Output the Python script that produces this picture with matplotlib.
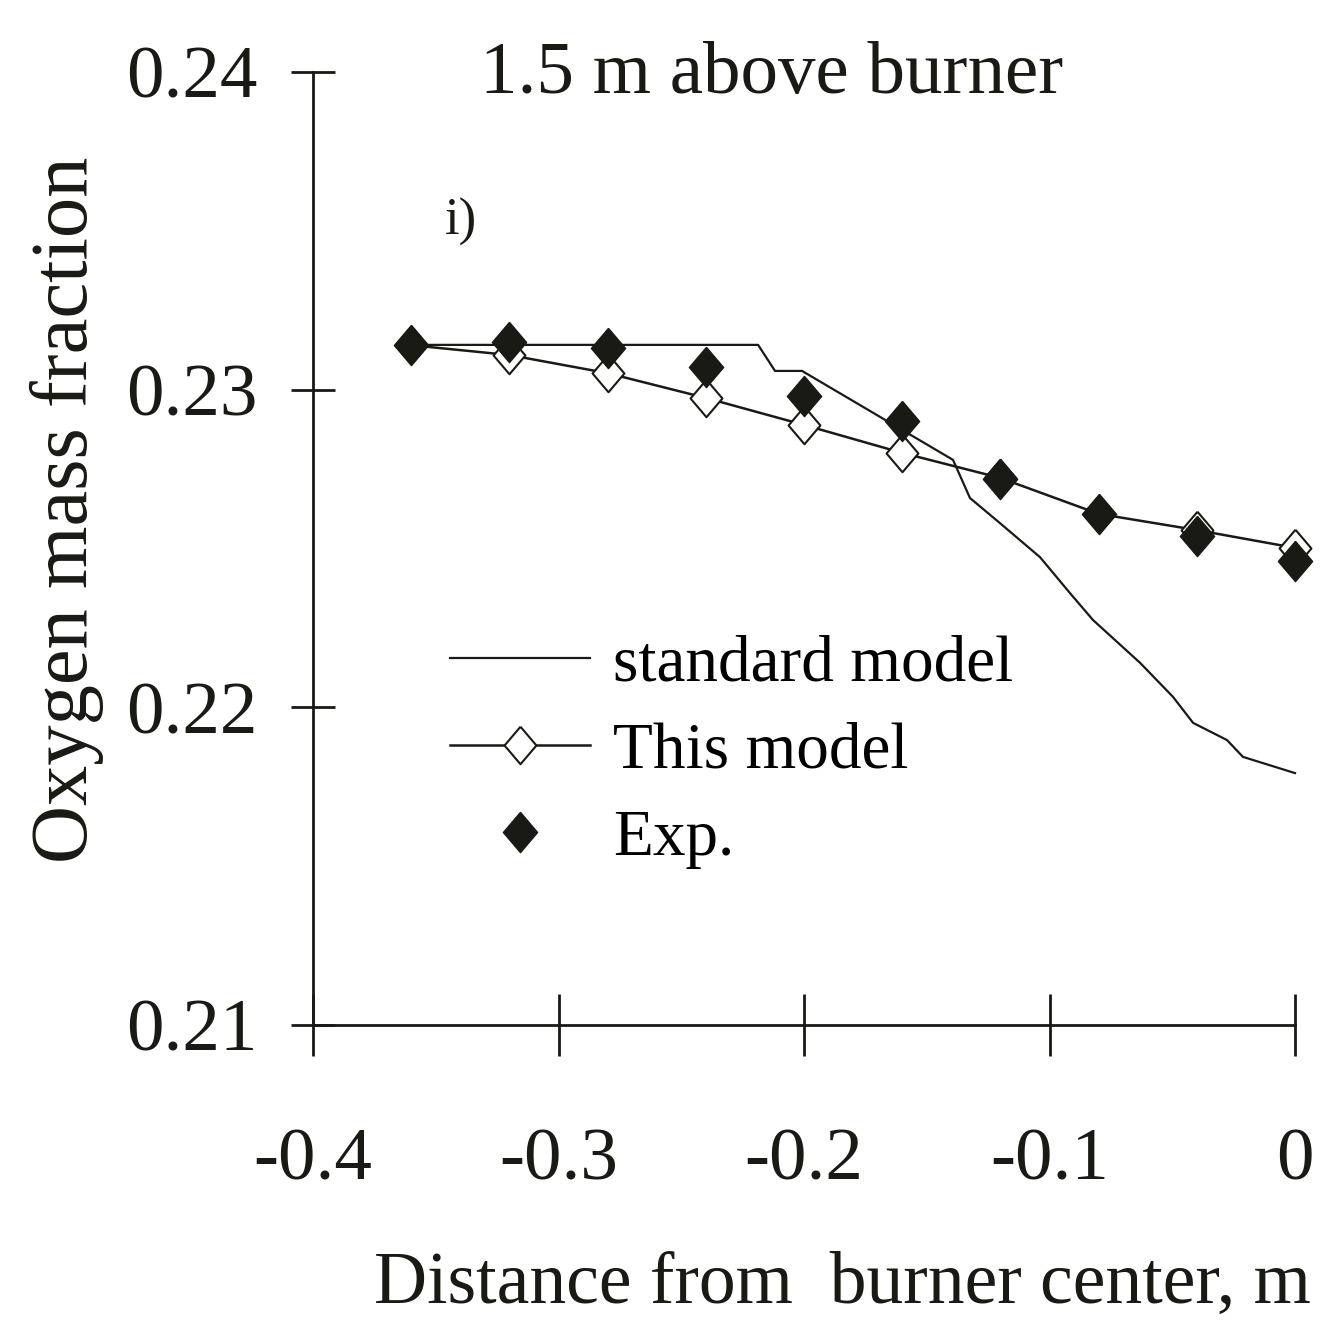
import matplotlib
matplotlib.use("Agg")
import matplotlib.pyplot as plt
from matplotlib.lines import Line2D

# values
std_x = [-0.36, -0.2187, -0.2118, -0.2008, -0.1393, -0.1324, -0.1202, -0.1039,
         -0.0917, -0.0823, -0.0631, -0.0497, -0.0415, -0.0277, -0.0212, 0.0]
std_y = [0.23141, 0.23141, 0.23059, 0.23059, 0.22779, 0.22659, 0.22580, 0.22473,
         0.22360, 0.22275, 0.22140, 0.22033, 0.21951, 0.21897, 0.21844, 0.21793]

model_x = [-0.36, -0.32, -0.28, -0.24, -0.20, -0.16, -0.12, -0.08, -0.04, 0.0]
model_y = [0.2314, 0.23109, 0.23052, 0.22974, 0.22889, 0.22801, 0.22722, 0.22609, 0.22558, 0.22502]

exp_x = [-0.36, -0.32, -0.28, -0.24, -0.20, -0.16, -0.12, -0.08, -0.04, 0.0]
exp_y = [0.2314, 0.2315, 0.2313, 0.2307, 0.2298, 0.2290, 0.2272, 0.2261, 0.2254, 0.2246]

x_ticks = [-0.4, -0.3, -0.2, -0.1, 0.0]
x_labels = ["-0.4", "-0.3", "-0.2", "-0.1", "0"]
y_ticks = [0.21, 0.22, 0.23, 0.24]
y_labels = ["0.21", "0.22", "0.23", "0.24"]

plt.rcParams["font.family"] = ["Liberation Serif", "DejaVu Serif"]
ink = "#1a1a14"

# tall-ish diamond
diamond = [(0, 1), (0.85, 0), (0, -1), (-0.85, 0), (0, 1)]

W, H = 1339, 1321
fig = plt.figure(figsize=(W / 100, H / 100), dpi=100)
ax = fig.add_axes([313 / W, 1 - 1025 / H, (1295 - 313) / W, (1025 - 72) / H])

ax.plot(std_x, std_y, color=ink, lw=1.6, zorder=3, clip_on=False)
ax.plot(model_x, model_y, color=ink, lw=1.8, marker=diamond, ms=27,
        mfc="white", mec=ink, mew=1.5, zorder=4, clip_on=False)
ax.plot(exp_x, exp_y, ls="none", marker=diamond, ms=29, mfc=ink, mec=ink,
        zorder=5, clip_on=False)

ax.set_xlim(-0.4, 0.0)
ax.set_ylim(0.21, 0.24)
ax.set_xticks(x_ticks)
ax.set_xticklabels(x_labels)
ax.set_yticks(y_ticks)
ax.set_yticklabels(y_labels)

for side in ["top", "right"]:
    ax.spines[side].set_visible(False)
for side in ["left", "bottom"]:
    ax.spines[side].set_linewidth(2.0)
    ax.spines[side].set_color(ink)
ax.patch.set_visible(False)

ax.tick_params(axis="x", direction="inout", length=45, width=2.0, pad=52,
               labelsize=54, colors=ink)
ax.tick_params(axis="y", direction="inout", length=32, width=2.0, pad=24,
               labelsize=54, colors=ink)

ax.text(0.134, 0.843, "i)", transform=ax.transAxes, fontsize=38,
        ha="left", va="center", color=ink)

fig.text(772 / W, 1 - 75 / H, "1.5 m above burner", fontsize=54,
         ha="center", va="center", color=ink)
fig.text(67 / W, 1 - 510 / H, "Oxygen mass fraction", fontsize=58,
         rotation=90, ha="center", va="center", color=ink)
fig.text(842 / W, 1 - 1303 / H, "Distance from  burner center, m", fontsize=53,
         ha="center", va="baseline", color=ink)

handles = [
    Line2D([], [], color=ink, lw=1.6),
    Line2D([], [], color=ink, lw=1.8, marker=diamond, ms=27, mfc="white",
           mec=ink, mew=1.5),
    Line2D([], [], ls="none", marker=diamond, ms=29, mfc=ink, mec=ink),
]
fig.legend(handles, ["standard model", "This model", "Exp."],
           loc="upper left", bbox_to_anchor=(450 / W, 1 - 635 / H),
           frameon=False, fontsize=47, handlelength=2.15, handletextpad=0.35,
           labelspacing=0.42, borderpad=0, borderaxespad=0)

fig.savefig("out.png", dpi=100)
